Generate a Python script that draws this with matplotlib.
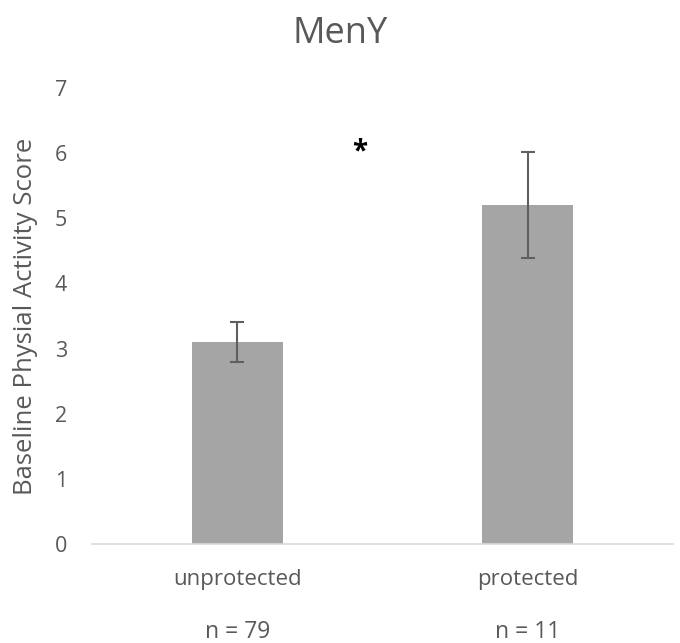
import matplotlib
matplotlib.use("Agg")
import matplotlib.pyplot as plt
from matplotlib.transforms import blended_transform_factory

categories = ["unprotected", "protected"]
means = [3.1, 5.2]
errors = [0.3, 0.81]
n_labels = ["n = 79", "n = 11"]
title = "MenY"
ylabel = "Baseline Physial Activity Score"
yticks = [0, 1, 2, 3, 4, 5, 6, 7]
star_x, star_y = 0.42, 6.02

plt.rcParams['font.family'] = ['Open Sans', 'DejaVu Sans']
text_color = "#595959"

fig = plt.figure(figsize=(6.8, 6.43), dpi=100)
ax = fig.add_axes([0.1353, 0.1535, 0.8547, 0.7104])

x = list(range(len(categories)))
ax.bar(x, means, width=0.313, color="#A5A5A5", zorder=2)
ax.errorbar(x, means, yerr=errors, fmt="none", ecolor="#5F5F5F",
            elinewidth=1.5, capsize=5, capthick=1.5, zorder=3)

ax.set_xlim(-0.5, 1.5)
ax.set_ylim(0, 7)
ax.set_yticks(yticks)
ax.set_xticks(x)
ax.set_xticklabels(categories)
ax.tick_params(axis='y', length=0, pad=18, labelsize=15.5, labelcolor=text_color)
ax.tick_params(axis='x', length=0, pad=18, labelsize=16, labelcolor=text_color)
for s in ["top", "right", "left"]:
    ax.spines[s].set_visible(False)
ax.spines["bottom"].set_color("#D9D9D9")
ax.spines["bottom"].set_linewidth(1.2)

ax.set_ylabel(ylabel, fontsize=18.5, color=text_color)
ax.yaxis.set_label_coords(-0.093, 0.5)
fig.suptitle(title, fontsize=26, color=text_color, y=0.975)

trans = blended_transform_factory(ax.transData, ax.transAxes)
for xi, lab in zip(x, n_labels):
    ax.text(xi, -0.205, lab, transform=trans, ha='center', va='baseline',
            fontsize=16.5, color=text_color)

ax.text(star_x, star_y, "*", ha='center', va='center', fontsize=20,
        fontweight='bold', color='black')

fig.savefig("out.png", dpi=100)
